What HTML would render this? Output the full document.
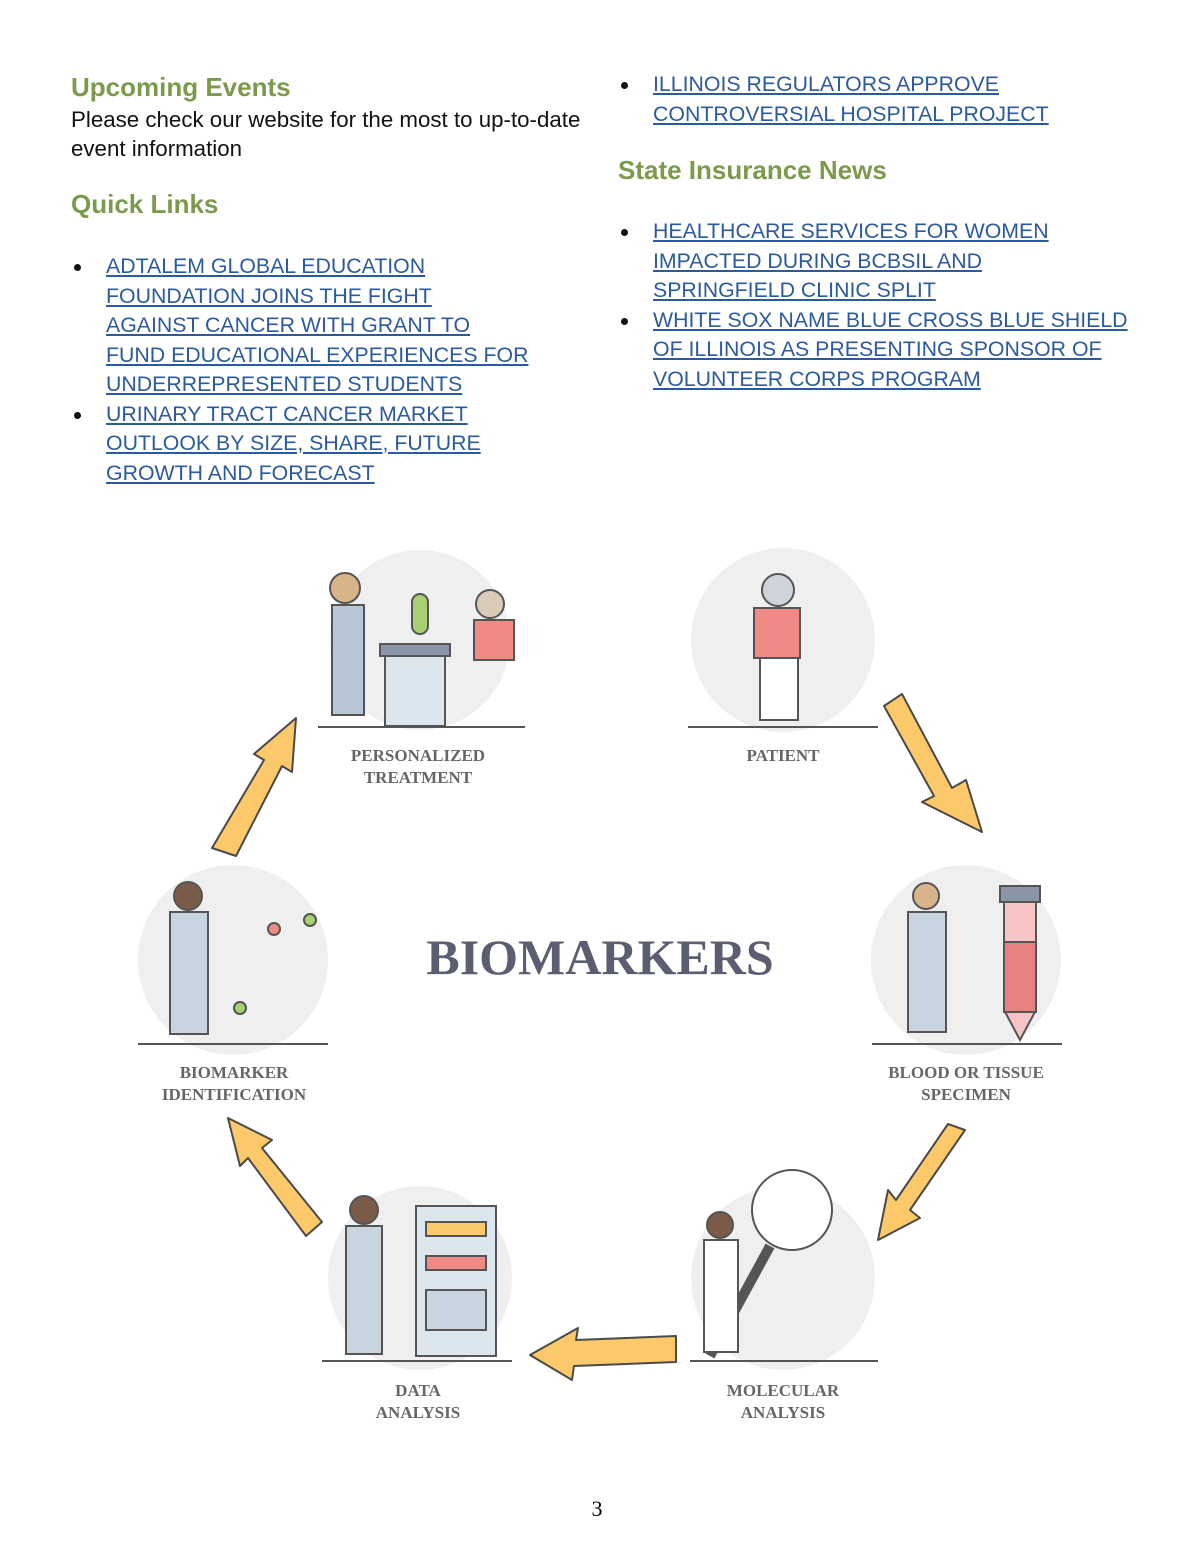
<!DOCTYPE html>
<html><head><meta charset="utf-8"><style>
body{margin:0;width:1200px;height:1553px;background:#fff;position:relative;font-family:"Liberation Sans",sans-serif;overflow:hidden}
.a{position:absolute}
h2{position:absolute;margin:0;font-family:"Liberation Sans",sans-serif;font-size:26px;font-weight:bold;color:#7b9a4c}
.t{font-size:22.3px;color:#111;line-height:29px}
ul{position:absolute;margin:0;padding:0;list-style:none}
li{position:relative;padding-left:35px;font-size:21.3px;line-height:29.5px;color:#2b5a9e;text-decoration:underline}
li:before{content:"";position:absolute;left:3px;top:12px;width:7px;height:7px;border-radius:50%;background:#111}
.lab{position:absolute;font-family:"Liberation Serif",serif;font-weight:bold;font-size:17px;color:#666;text-align:center;line-height:22px;width:200px}
</style></head><body>
<h2 style="left:71px;top:72px">Upcoming Events</h2>
<div class="a t" style="left:71px;top:105px">Please check our website for the most to up-to-date<br>event information</div>
<h2 style="left:71px;top:189px">Quick Links</h2>
<ul style="left:71px;top:252px">
<li>ADTALEM GLOBAL EDUCATION<br>FOUNDATION JOINS THE FIGHT<br>AGAINST CANCER WITH GRANT TO<br>FUND EDUCATIONAL EXPERIENCES FOR<br>UNDERREPRESENTED STUDENTS</li>
<li>URINARY TRACT CANCER MARKET<br>OUTLOOK BY SIZE, SHARE, FUTURE<br>GROWTH AND FORECAST</li></ul>
<ul style="left:618px;top:70px"><li>ILLINOIS REGULATORS APPROVE<br>CONTROVERSIAL HOSPITAL PROJECT</li></ul>
<h2 style="left:618px;top:155px">State Insurance News</h2>
<ul style="left:618px;top:217px">
<li>HEALTHCARE SERVICES FOR WOMEN<br>IMPACTED DURING BCBSIL AND<br>SPRINGFIELD CLINIC SPLIT</li>
<li>WHITE SOX NAME BLUE CROSS BLUE SHIELD<br>OF ILLINOIS AS PRESENTING SPONSOR OF<br>VOLUNTEER CORPS PROGRAM</li></ul>

<svg class="a" style="left:0;top:0" width="1200" height="1553">
<g fill="#efefef">
<circle cx="420" cy="640" r="90"/><circle cx="783" cy="640" r="92"/>
<circle cx="233" cy="960" r="95"/><circle cx="966" cy="960" r="95"/>
<circle cx="420" cy="1278" r="92"/><circle cx="783" cy="1278" r="92"/></g>
<g stroke="#555" stroke-width="2">
<line x1="318" y1="727" x2="525" y2="727"/><line x1="688" y1="727" x2="878" y2="727"/>
<line x1="138" y1="1044" x2="328" y2="1044"/><line x1="872" y1="1044" x2="1062" y2="1044"/>
<line x1="322" y1="1361" x2="512" y2="1361"/><line x1="690" y1="1361" x2="878" y2="1361"/></g>
<g fill="#fbc969" stroke="#4a4a4a" stroke-width="2" stroke-linejoin="round">
<path d="M212 848 L264 760 L254 754 L296 718 L292 772 L282 766 L236 856Z"/>
<path d="M884 706 L934 796 L922 802 L982 832 L966 780 L952 788 L902 694Z"/>
<path d="M965 1130 L910 1210 L920 1218 L878 1240 L888 1190 L896 1200 L948 1124Z"/>
<path d="M676 1336 L576 1340 L578 1328 L530 1355 L572 1380 L574 1366 L676 1362Z"/>
<path d="M322 1222 L262 1148 L272 1140 L228 1118 L240 1166 L248 1158 L306 1236Z"/>
</g>
<g stroke="#555" stroke-width="2">
<rect x="385" y="648" width="60" height="78" fill="#dbe6ef"/><rect x="380" y="644" width="70" height="12" fill="#8a96a8"/>
<rect x="412" y="594" width="16" height="40" rx="8" fill="#a9cf72"/>
<circle cx="490" cy="604" r="14" fill="#d9cbb8"/><rect x="474" y="620" width="40" height="40" fill="#f08a84"/>
<circle cx="345" cy="588" r="15" fill="#d9b38a"/><rect x="332" y="605" width="32" height="110" fill="#b8c7d6"/>
<circle cx="778" cy="590" r="16" fill="#cfd3da"/><rect x="754" y="608" width="46" height="50" fill="#f08a84"/>
<rect x="760" y="658" width="38" height="62" fill="#fff"/>
<circle cx="926" cy="896" r="13" fill="#d9b38a"/><rect x="908" y="912" width="38" height="120" fill="#c8d4e0"/>
<path d="M1004 900 L1036 900 L1036 1010 L1020 1040 L1004 1010Z" fill="#f6c4c4"/><rect x="1004" y="942" width="32" height="70" fill="#e98080"/>
<rect x="1000" y="886" width="40" height="16" fill="#8a96a8"/>
<circle cx="188" cy="896" r="14" fill="#7a5a48"/><rect x="170" y="912" width="38" height="122" fill="#c8d4e0"/>
<circle cx="274" cy="929" r="6" fill="#f08a84"/><circle cx="310" cy="920" r="6" fill="#a9cf72"/><circle cx="240" cy="1008" r="6" fill="#a9cf72"/>
<rect x="416" y="1206" width="80" height="150" fill="#dbe6ef"/><rect x="426" y="1222" width="60" height="14" fill="#f9c96a"/>
<rect x="426" y="1256" width="60" height="14" fill="#f08a84"/><rect x="426" y="1290" width="60" height="40" fill="#c8d4e0"/>
<circle cx="364" cy="1210" r="14" fill="#7a5a48"/><rect x="346" y="1226" width="36" height="128" fill="#c8d4e0"/>
<circle cx="792" cy="1210" r="40" fill="#fff"/><line x1="770" y1="1246" x2="710" y2="1356" stroke-width="10"/>
<circle cx="720" cy="1225" r="13" fill="#7a5a48"/><rect x="704" y="1240" width="34" height="112" fill="#fff"/>
</g>
</svg>
<div class="lab" style="left:318px;top:745px">PERSONALIZED<br>TREATMENT</div>
<div class="lab" style="left:683px;top:745px">PATIENT</div>
<div class="lab" style="left:134px;top:1062px">BIOMARKER<br>IDENTIFICATION</div>
<div class="lab" style="left:866px;top:1062px">BLOOD OR TISSUE<br>SPECIMEN</div>
<div class="lab" style="left:318px;top:1380px">DATA<br>ANALYSIS</div>
<div class="lab" style="left:683px;top:1380px">MOLECULAR<br>ANALYSIS</div>
<div class="a" style="left:400px;top:928px;width:400px;text-align:center;font-family:'Liberation Serif',serif;font-weight:bold;font-size:50px;color:#5b5e70">BIOMARKERS</div>
<div class="a" style="left:580px;top:1496px;width:34px;text-align:center;font-family:'Liberation Serif',serif;font-size:22px">3</div>
</body></html>
